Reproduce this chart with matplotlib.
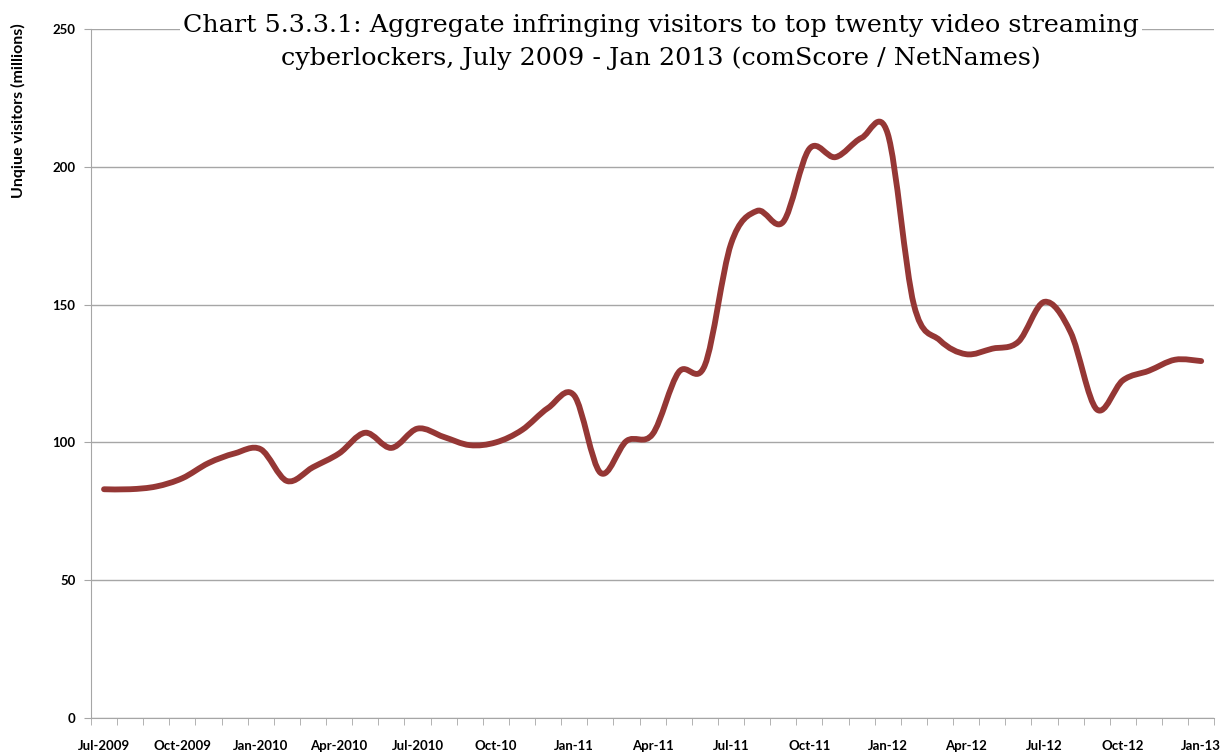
import numpy as np
import matplotlib
matplotlib.use("Agg")
from matplotlib import pyplot as plt
from matplotlib.path import Path
from matplotlib.patches import PathPatch

# monthly unique visitors (millions), Jul 2009 - Jan 2013
visitors = [
    83, 83, 84, 87, 92.5, 96, 97.5, 86, 91, 96, 103.5, 98, 105, 102, 99,
    100, 104.5, 112.5, 117, 89, 100.5, 103, 125.5, 128, 172, 184, 180,
    206.5, 203.5, 210.5, 212, 150, 137, 132, 134, 136.5, 151, 140, 112,
    122.5, 126, 130, 129.5,
]
tick_labels = [
    "Jul-2009", "Oct-2009", "Jan-2010", "Apr-2010", "Jul-2010", "Oct-10",
    "Jan-11", "Apr-11", "Jul-11", "Oct-11", "Jan-12", "Apr-12", "Jul-12",
    "Oct-12", "Jan-13",
]
title = ("Chart 5.3.3.1: Aggregate infringing visitors to top twenty video streaming\n"
         "cyberlockers, July 2009 - Jan 2013 (comScore / NetNames)")

line_color = "#953735"
grid_color = "#a6a6a6"

fig = plt.figure(figsize=(12.29, 7.53), dpi=100)
ax = fig.add_axes([0.074, 0.0465, 0.914, 0.915])

x = np.arange(len(visitors), dtype=float)
y = np.array(visitors, dtype=float)

# smoothed line like Excel: cubic bezier segments through every point
verts = [(x[0], y[0])]
codes = [Path.MOVETO]
n = len(x)
for i in range(n - 1):
    p0 = np.array([x[max(i - 1, 0)], y[max(i - 1, 0)]])
    p1 = np.array([x[i], y[i]])
    p2 = np.array([x[i + 1], y[i + 1]])
    p3 = np.array([x[min(i + 2, n - 1)], y[min(i + 2, n - 1)]])
    c1 = p1 + (p2 - p0) / 6.0
    c2 = p2 - (p3 - p1) / 6.0
    verts += [tuple(c1), tuple(c2), tuple(p2)]
    codes += [Path.CURVE4, Path.CURVE4, Path.CURVE4]
patch = PathPatch(Path(verts, codes), facecolor="none", edgecolor=line_color,
                  lw=4.2, capstyle="round", joinstyle="round", zorder=3)
ax.add_patch(patch)

ax.set_xlim(-0.5, n - 0.5)
ax.set_ylim(0, 250)
ax.set_yticks([0, 50, 100, 150, 200, 250])
ax.yaxis.grid(True, color=grid_color, lw=1)
ax.set_axisbelow(True)

ax.set_xticks(np.arange(0, n, 3))
ax.set_xticklabels(tick_labels)
ax.set_xticks(np.arange(-0.5, n, 1), minor=True)
ax.tick_params(axis="x", which="major", length=0, pad=16)
ax.tick_params(axis="x", which="minor", length=5, color=grid_color, direction="out")
ax.tick_params(axis="y", length=5, color=grid_color, direction="out", pad=6)

for lab in ax.get_xticklabels() + ax.get_yticklabels():
    lab.set_fontfamily("Lato")
    lab.set_fontweight("bold")
    lab.set_fontsize(9.5)

for side in ["top", "right"]:
    ax.spines[side].set_visible(False)
for side in ["left", "bottom"]:
    ax.spines[side].set_color(grid_color)

fig.text(0.015, 0.853, "Unqiue visitors (millions)", rotation=90, ha="center",
         va="center", fontfamily="Lato", fontweight="bold", fontsize=11.5)

fig.text(0.538, 0.982, title, ha="center", va="top", fontfamily="DejaVu Serif",
         fontsize=18.3, linespacing=1.55,
         bbox=dict(facecolor="white", edgecolor="none", pad=2))

fig.savefig("out.png", dpi=100)
